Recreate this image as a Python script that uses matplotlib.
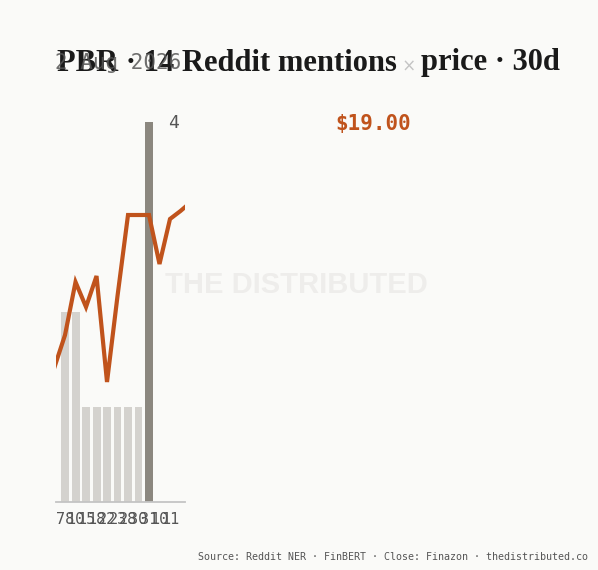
import numpy as np
import matplotlib.pyplot as plt

# mentions per day (bars) and daily close (line)
bar_days = [0, 1, 2, 3, 4, 5, 6, 7, 8]
mentions = [2, 2, 1, 1, 1, 1, 1, 1, 4]
price_days = [-1, 0, 1, 2, 3, 4, 5, 6, 7, 8, 9, 10, 11, 12]
close = [18.175, 18.335, 18.60, 18.475, 18.63, 18.10, 18.53,
         18.935, 18.935, 18.935, 18.69, 18.915, 18.955, 19.00]
tick_days = [0, 1, 2, 3, 4, 5, 6, 7, 8, 9, 10]
tick_labels = ['78', '10', '15', '18', '22', '23', '28', '30', '31', '10', '11']

BG = '#fafaf8'
ORANGE = '#c0531c'
LIGHT = '#d4d2ce'
DARK = '#8b877f'

fig = plt.figure(figsize=(5.98, 5.70), dpi=100, facecolor=BG)
ax = fig.add_axes([56 / 598, 68 / 570, 129 / 598, 380 / 570])
ax.set_facecolor('none')

colors = [LIGHT] * (len(mentions) - 1) + [DARK]
ax.bar(bar_days, mentions, width=0.76, color=colors, zorder=1)
ax.set_xlim(-0.86, 11.43)
ax.set_ylim(0, 4)
ax.annotate(str(mentions[-1]), xy=(bar_days[-1], mentions[-1]),
            xytext=(14, -1), textcoords='offset points', ha='left', va='center',
            family='DejaVu Sans Mono', fontsize=13, color='#555555',
            annotation_clip=False)

for side in ['top', 'right', 'left']:
    ax.spines[side].set_visible(False)
ax.spines['bottom'].set_color('#c4c4c4')
ax.spines['bottom'].set_linewidth(1.3)
ax.set_yticks([])
ax.set_xticks(tick_days)
ax.set_xticklabels(tick_labels, family='DejaVu Sans Mono', fontsize=11,
                   color='#555555')
ax.tick_params(axis='x', length=0, pad=7)

# price line on its own scale
ax2 = ax.twinx()
ax2.plot(price_days, close, color=ORANGE, lw=3, solid_joinstyle='miter', zorder=3)
ax2.set_ylim(17.5, 19.4)
ax2.set_xlim(-0.86, 11.43)
ax2.axis('off')

fig.text(335 / 598, 1 - 124 / 570, f'${close[-1]:.2f}', family='DejaVu Sans Mono',
         fontsize=15, fontweight='bold', color=ORANGE, ha='left', va='center')

# watermark
fig.text(296 / 598, 0.5, 'THE DISTRIBUTED', family='Liberation Sans',
         fontweight='bold', fontsize=21, color='#eeedeb', ha='center', va='center',
         zorder=0)

# title in three pieces so the × can be grey
t1 = fig.text(57 / 598, 1 - 71 / 570, 'PBR · 14 Reddit mentions', family='Liberation Serif',
              fontweight='bold', fontsize=22, color='#1a1a1a', ha='left', va='baseline')
t2 = ax.annotate(' × ', xy=(1, 0.1), xycoords=t1, va='bottom', ha='left',
                 family='DejaVu Sans', fontsize=12, color='#c4c4c4',
                 annotation_clip=False)
ax.annotate('price · 30d', xy=(1, -0.1), xycoords=t2, va='bottom', ha='left',
            family='Liberation Serif', fontweight='bold', fontsize=22,
            color='#1a1a1a', annotation_clip=False)

fig.text(55 / 598, 1 - 63 / 570, '2 Aug 2026', family='DejaVu Sans Mono',
         fontsize=15, color='#555555', alpha=0.85, ha='left', va='center')

fig.text(588 / 598, 1 - 557 / 570,
         'Source: Reddit NER · FinBERT · Close: Finazon · thedistributed.co',
         family='DejaVu Sans Mono', fontsize=7.2, color='#555555', ha='right',
         va='center')

fig.savefig('out.png', dpi=100, facecolor=BG)
